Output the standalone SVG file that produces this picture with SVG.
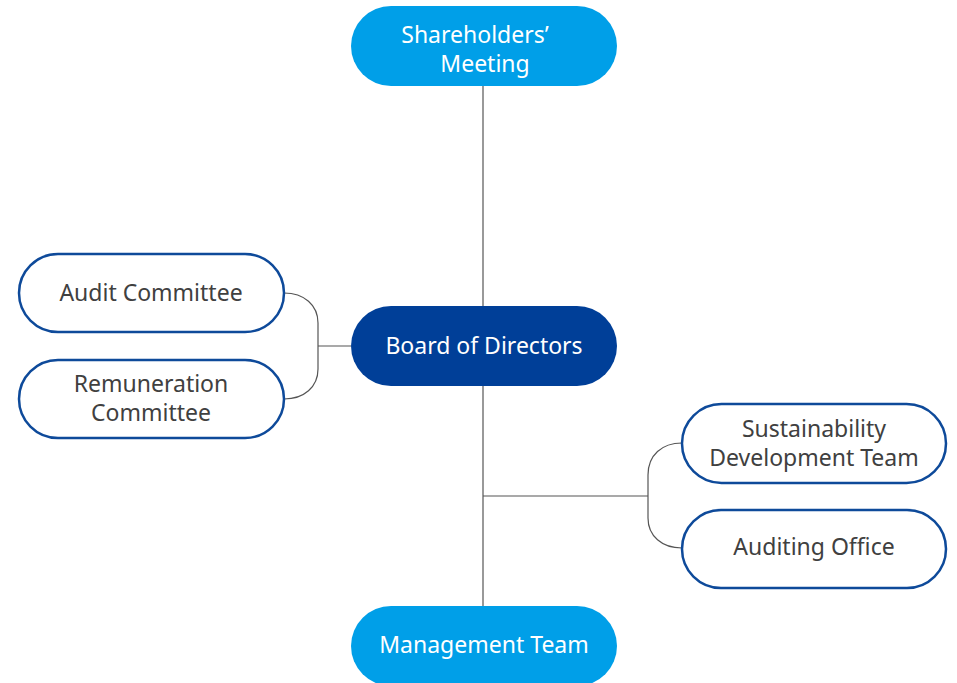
<svg xmlns="http://www.w3.org/2000/svg" width="957" height="683" viewBox="0 0 957 683">
<style>
.t{font-family:"Noto Sans","Open Sans",sans-serif;font-size:23px;text-anchor:middle}
.w{fill:#ffffff}
.d{fill:#404040}
.lb{fill:#009FE8}
.db{fill:#003F98}
.ol{fill:#ffffff;stroke:#0E4A9A;stroke-width:2.5}
.c{fill:none;stroke:#555555;stroke-width:1.2}
</style>
<rect width="957" height="683" fill="#ffffff"/>
<g id="connectors">
<line class="c" x1="483" y1="86" x2="483" y2="606"/>
<line class="c" x1="483" y1="496" x2="648" y2="496"/>
<path class="c" d="M682 443 C662 443 648 455 648 475 L648 518 C648 536 662 548 682 548"/>
<path class="c" d="M284 293 C304 293 318 305 318 323 L318 369 C318 387 304 399 284 399"/>
<line class="c" x1="318" y1="346" x2="351" y2="346"/>
</g>
<g id="shareholders">
<rect class="lb" x="351" y="6" width="266" height="80" rx="40"/>
<text class="t w" x="475" y="43">Shareholders’</text>
<text class="t w" x="485" y="72">Meeting</text>
</g>
<g id="board">
<rect class="db" x="351" y="306" width="266" height="80" rx="40"/>
<text class="t w" x="484" y="354">Board of Directors</text>
</g>
<g id="management">
<rect class="lb" x="351" y="606" width="266" height="80" rx="40"/>
<text class="t w" x="484" y="653">Management Team</text>
</g>
<g id="audit">
<rect class="ol" x="19" y="254" width="265" height="78" rx="39"/>
<text class="t d" x="151" y="301">Audit Committee</text>
</g>
<g id="remuneration">
<rect class="ol" x="19" y="360" width="265" height="78" rx="39"/>
<text class="t d" x="151" y="392">Remuneration</text>
<text class="t d" x="151" y="421">Committee</text>
</g>
<g id="sustainability">
<rect class="ol" x="682" y="404" width="264" height="79" rx="39.5"/>
<text class="t d" x="814" y="437">Sustainability</text>
<text class="t d" x="814" y="466">Development Team</text>
</g>
<g id="auditing">
<rect class="ol" x="682" y="510" width="264" height="78" rx="39"/>
<text class="t d" x="814" y="555">Auditing Office</text>
</g>
</svg>
